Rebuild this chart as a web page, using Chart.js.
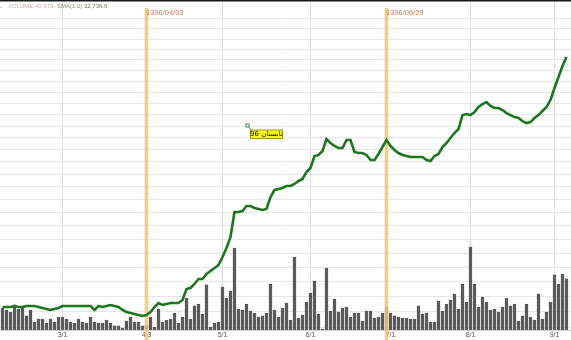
<!DOCTYPE html>
<html lang="fa">
<head>
  <meta charset="UTF-8" />
  <title>Price and volume</title>
  <style>
    body { margin: 0; background: #fff; }
    #wrap { position: relative; width: 571px; height: 340px; }
  </style>
</head>
<body>
  <div id="wrap"><canvas id="priceChart" width="571" height="340"></canvas></div>

  <script src="https://cdn.jsdelivr.net/npm/chart.js"></script>
  <script>
    // daily closes (index points) and volume (millions), one per trading day
    const price = [
      22754,22754,22754,22787,22754,22754,22787,22787,22787,22754,
      22721,22688,22655,22688,22721,22787,22787,22787,22787,22787,
      22787,22787,22787,22655,22787,22754,22787,22821,22787,22754,
      22655,22589,22556,22523,22491,22458,22491,22589,22754,22887,
      22821,22854,22887,22887,22887,22987,23357,23391,23528,23700,
      23700,23874,23978,24083,24188,24471,24794,25194,26126,26126,
      26164,26356,26356,26279,26240,26202,26240,26703,26977,27016,
      27055,27134,27134,27213,27333,27413,27693,27855,28344,28385,
      28551,29053,28885,28760,28676,28676,29011,29011,28510,28468,
      28468,28385,28180,28180,28427,28718,29011,28760,28593,28468,
      28385,28344,28303,28303,28303,28303,28180,28139,28344,28427,
      28718,28885,29095,29308,29480,30085,30129,30085,30217,30438,
      30572,30662,30483,30394,30394,30305,30173,30085,29997,29953,
      29823,29737,29780,29953,30085,30261,30438,30751,31293,31797,
      32311,32737
    ];
    const volume = [
      17.4,15.8,14.2,19.8,16.6,18.2,11.1,15.8,
      6.3,8.7,8.7,5.5,8.7,6.3,10.3,10.3,8.7,6.3,5.5,8.7,
      6.3,5.5,10.3,6.3,5.5,5.5,7.9,5.5,3.2,3.2,1.6,7.1,10.3,6.3,6.3,3.2,
      4.0,
      10.3,2.4,16.6,6.3,7.9,8.7,13.4,5.5,10.3,25.3,
      8.7,19.0,20.5,
      12.6,35.6,2.4,5.5,6.3,34.0,25.3,30.8,64.8,16.6,
      15.8,20.5,15.0,13.4,10.3,11.1,13.4,36.3,15.8,10.3,
      17.4,21.3,7.9,57.7,9.5,11.9,22.1,29.2,38.7,12.6,
      0.8,49.0,15.0,24.5,14.2,17.4,18.2,10.3,13.4,13.4,
      7.1,15.0,15.0,9.5,10.3,13.4,18.2,
      13.4,11.1,10.3,9.5,9.5,8.7,8.7,19.0,12.6,13.4,
      6.3,6.3,22.9,15.0,20.5,23.7,28.4,16.6,36.3,22.1,
      65.6,36.3,18.2,26.1,22.1,15.8,16.6,14.2,18.2,25.3,
      19.0,20.5,7.1,11.1,20.5,10.3,7.9,28.4,8.7,14.2,
      22.1,43.5,36.3,44.2,40.373
    ];
    const tickIdx = [15, 36, 55, 77, 97, 117, 138];
    const tickText = ['3/1', '4/3', '5/1', '6/1', '7/1', '8/1', '9/1'];
    const eventIdx = [36, 96];
    const eventText = ['1396/04/03', '1396/06/29'];
    const noteIdx = 61;
    const notePrice = 29630;
    const noteText = 'تابستان 96';
    const lastVolume = '40.373';
    const lastSma = '32,736.6';
    const priceGrid = Array.from({ length: 26 }, (_, k) => 22100 + 500 * k);

    const font = '"Liberation Sans", Arial, sans-serif';

    const overlay = {
      id: 'overlay',
      afterDatasetDraw(chart, args) {
        if (args.index !== 1) return;
        const ctx = chart.ctx, x = chart.scales.x;
        ctx.save();
        eventIdx.forEach((idx, k) => {
          const px = x.getPixelForValue(idx);
          ctx.fillStyle = 'rgba(247,196,110,0.85)';
          ctx.fillRect(px - 1.8, 8, 3.6, 332);
          ctx.fillStyle = '#d8795a';
          ctx.font = '7.5px ' + font;
          ctx.textBaseline = 'alphabetic';
          ctx.fillText(eventText[k], px - 0.5, 15);
        });
        ctx.restore();
      },
      afterDraw(chart) {
        const ctx = chart.ctx;
        ctx.save();
        // top border
        ctx.fillStyle = '#1a1a1a';
        ctx.fillRect(0, 0, chart.width, 1.5);
        // header
        ctx.font = '6px ' + font;
        ctx.textBaseline = 'alphabetic';
        ctx.fillStyle = '#c9abab';
        ctx.fillText('L', -1, 8);
        ctx.fillText('VOLUME:' + lastVolume, 8, 8);
        ctx.fillStyle = '#8a8a7e';
        ctx.fillText('SMA(1.0)', 57, 8);
        ctx.fillStyle = '#6f7a5a';
        ctx.fillText(lastSma, 84, 8);
        // note
        const mx = chart.scales.x.getPixelForValue(noteIdx);
        const my = chart.scales.y.getPixelForValue(notePrice);
        ctx.strokeStyle = '#5f7f5f';
        ctx.lineWidth = 1;
        ctx.strokeRect(mx - 0.5, my - 1.5, 3, 3);
        ctx.beginPath();
        ctx.moveTo(mx + 2.5, my + 1.5);
        ctx.lineTo(mx + 4.5, my + 4.5);
        ctx.stroke();
        ctx.fillStyle = '#ffff00';
        ctx.fillRect(mx + 4, my + 4.5, 32, 8.5);
        ctx.strokeStyle = '#9a9a20';
        ctx.strokeRect(mx + 4, my + 4.5, 32, 8.5);
        ctx.fillStyle = '#000';
        ctx.font = '7px "DejaVu Sans", sans-serif';
        ctx.textAlign = 'center';
        ctx.textBaseline = 'middle';
        ctx.fillText(noteText, mx + 20, my + 9);
        ctx.restore();
      }
    };

    const hiddenGrid = v => eventIdx.some(e => Math.abs(e - v) <= 1);

    new Chart(document.getElementById('priceChart').getContext('2d'), {
      type: 'bar',
      data: {
        datasets: [
          {
            type: 'line',
            data: price.map((p, i) => ({ x: i, y: p })),
            yAxisID: 'y',
            borderColor: '#1d751d',
            borderWidth: 2.6,
            pointRadius: 0,
            tension: 0,
            order: 0
          },
          {
            type: 'bar',
            data: volume.map((v, i) => ({ x: i, y: v })),
            yAxisID: 'vol',
            backgroundColor: '#5a5a5a',
            borderColor: '#404040',
            borderWidth: 0.5,
            barThickness: 3,
            order: 1
          }
        ]
      },
      options: {
        responsive: false,
        animation: false,
        layout: { padding: 0 },
        plugins: { legend: { display: false }, tooltip: { enabled: false } },
        scales: {
          x: {
            type: 'linear',
            min: -0.625,
            max: 142.125,
            offset: false,
            afterBuildTicks: axis => { axis.ticks = tickIdx.map(v => ({ value: v })); },
            afterFit: axis => { axis.height = 10; },
            grid: {
              offset: false,
              drawTicks: false,
              color: c => (c.tick && hiddenGrid(c.tick.value)) ? 'rgba(0,0,0,0)' : '#dadada'
            },
            border: { display: true, color: '#d0d0d0' },
            ticks: {
              autoSkip: false,
              maxRotation: 0,
              padding: 1,
              color: '#555',
              font: { size: 7, family: font },
              callback: v => tickText[tickIdx.indexOf(v)] || ''
            }
          },
          y: {
            type: 'logarithmic',
            position: 'left',
            min: 22005,
            max: 35567,
            afterBuildTicks: axis => { axis.ticks = priceGrid.map(v => ({ value: v })); },
            afterFit: axis => { axis.width = 0; },
            grid: { color: '#e6e6e6', drawTicks: false },
            border: { display: false },
            ticks: { display: false }
          },
          vol: {
            type: 'linear',
            position: 'right',
            min: 0,
            max: 260.7,
            display: false
          }
        }
      },
      plugins: [overlay]
    });
  </script>
</body>
</html>
